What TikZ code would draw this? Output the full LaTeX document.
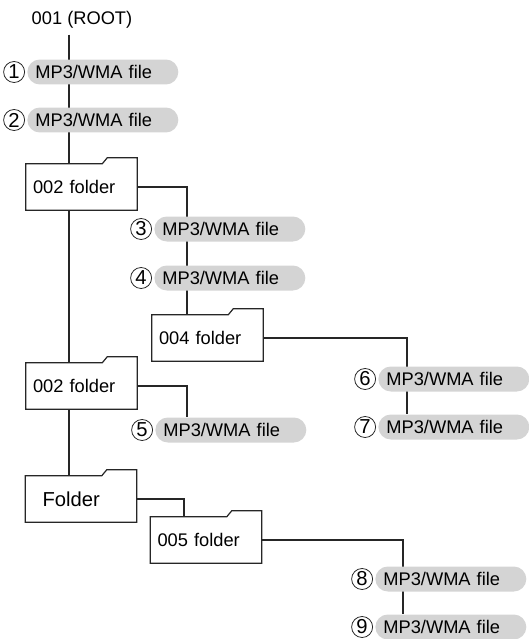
\documentclass[tikz,border=0pt]{standalone}
\usepackage{fontspec}
\setmainfont{Liberation Sans}
\usetikzlibrary{positioning, backgrounds}

\newcommand{\folderline}[1]{%
    \draw[tabline] (#1.south west) -- (#1.north west)
        -- ([shift={(-35,0)}]#1.north east) -- ++(5,-6)
        -- ([shift={(0,-6)}]#1.north east) -- (#1.south east) -- cycle;}

\begin{document}
\begin{tikzpicture}[
        x=0.02cm, y=-0.02cm,
        file/.style={
            rounded corners=0.25cm,
            fill=gray!34,
            minimum height=0.5cm,
            text width=2.7cm,
            inner xsep=0.16cm,
            inner ysep=0pt,
            align=left,
            font=\fontsize{10.4}{12}\selectfont
        },
        folder/.style={
            rectangle,
            fill=white,
            minimum width=2.22cm,
            minimum height=0.92cm,
            text width=1.94cm,
            inner xsep=0.14cm,
            align=left,
            font=\fontsize{10.4}{12}\selectfont
        },
        tabline/.style={
            draw=black!85,
            line width=0.7pt,
            line join=miter
        },
        num/.style={
            circle,
            draw=black!85,
            line width=0.45pt,
            minimum size=0.42cm,
            inner sep=0pt,
            font=\fontsize{11.5}{12}\selectfont
        },
        link/.style={
            line width=1.3pt,
            black!85
        }
    ]
    \useasboundingbox (0,0) rectangle (528,639);

    \node[font=\fontsize{10.4}{12}\selectfont] (root) at (82,20) {001 (ROOT)};

    \node[file, anchor=west] (p1) at (27,72) {MP3/WMA file};
    \node[file, anchor=west] (p2) at (27,120) {MP3/WMA file};
    \node[folder] (f1) at (81.5,187) {002 folder};
    \node[file, anchor=west] (p3) at (154,229) {MP3/WMA file};
    \node[file, anchor=west] (p4) at (154,278) {MP3/WMA file};
    \node[folder] (f2) at (207.5,338) {004 folder};
    \node[file, anchor=west] (p6) at (378,379) {MP3/WMA file};
    \node[file, anchor=west] (p7) at (378,427) {MP3/WMA file};
    \node[folder] (f3) at (81.5,386) {002 folder};
    \node[file, anchor=west] (p5) at (155,430) {MP3/WMA file};
    \node[folder, inner xsep=0.34cm, text width=1.54cm,
        font=\fontsize{11.5}{13}\selectfont] (fdr) at (81,499) {Folder};
    \node[folder] (f5) at (206,540) {005 folder};
    \node[file, anchor=west] (p8) at (375,579) {MP3/WMA file};
    \node[file, anchor=west] (p9) at (375,627) {MP3/WMA file};

    \folderline{f1}
    \folderline{f2}
    \folderline{f3}
    \folderline{fdr}
    \folderline{f5}

    \node[num, left=0.04cm of p1] (n1) {1};
    \node[num, left=0.04cm of p2] (n2) {2};
    \node[num, left=0.04cm of p3] (n3) {3};
    \node[num, left=0.04cm of p4] (n4) {4};
    \node[num, left=0.04cm of p5] (n5) {5};
    \node[num, left=0.04cm of p6] (n6) {6};
    \node[num, left=0.04cm of p7] (n7) {7};
    \node[num, left=0.04cm of p8] (n8) {8};
    \node[num, left=0.04cm of p9] (n9) {9};

    \coordinate (trunk) at ([shift={(44,0)}]fdr.north west);

    \begin{scope}[on background layer]
        \draw[link] (root.south -| trunk) -- (trunk);
        \draw[link] (f1.east) -| ([shift={(35,0)}]f2.north west);
        \draw[link] (f3.east) -| ([shift={(32,0)}]p5.north west);
        \draw[link] (f2.east) -| ([shift={(29,0)}]p7.north west);
        \draw[link] (fdr.east) -| ([shift={(34,0)}]f5.north west);
        \draw[link] (f5.east) -| ([shift={(28,0)}]p9.north west);
    \end{scope}
\end{tikzpicture}
\end{document}
